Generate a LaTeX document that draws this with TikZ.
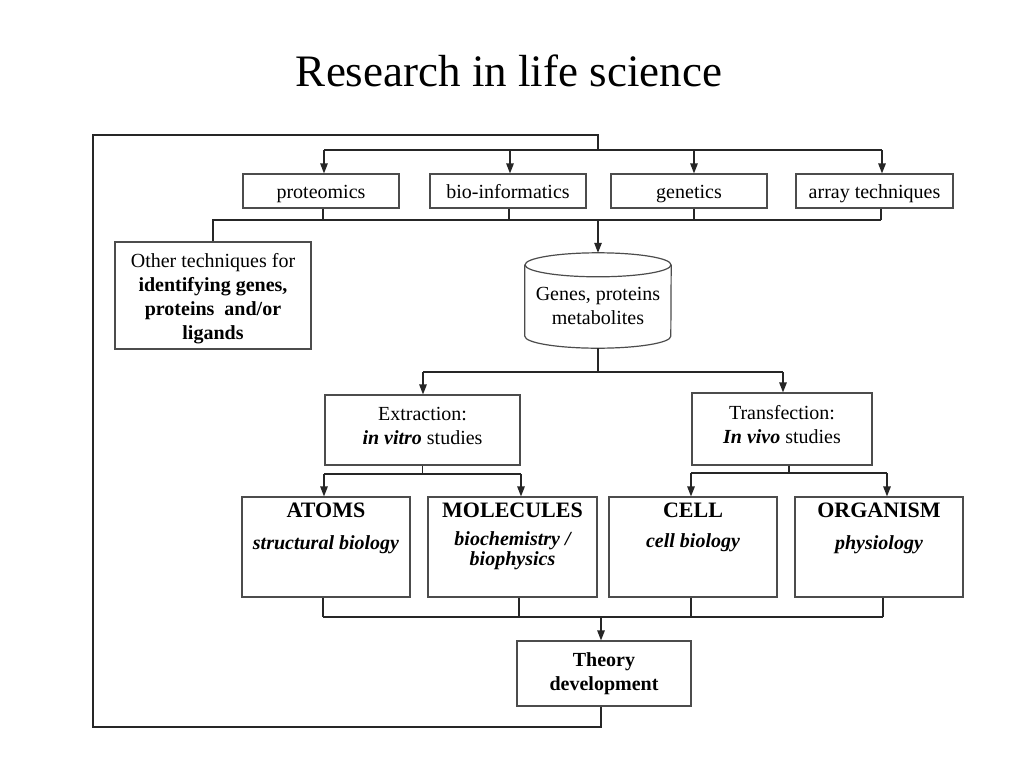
\documentclass[tikz,border=0pt]{standalone}
\usepackage{fontspec}
\setmainfont{Liberation Serif}
\usetikzlibrary{arrows.meta,calc}
\begin{document}
\begin{tikzpicture}[x=1pt,y=-1pt,
  box/.style={draw=black!70, line width=1.2pt, inner sep=0pt},
  conn/.style={line width=1.2pt, draw=black!85},
  arrowline/.style={conn, -{Triangle[length=10pt,width=7.5pt]}},
  txt/.style={font=\fontsize{20}{24}\selectfont, align=center, inner sep=0pt},
  bigtitle/.style={font=\fontsize{22}{26}\selectfont\bfseries, inner sep=0pt, anchor=base},
  subtitle/.style={font=\fontsize{20}{16.5}\selectfont\bfseries\itshape, align=center, inner sep=0pt, anchor=base},
  topbox/.style={box, txt, minimum height=34pt, text height=16pt, text depth=2pt},
  bottombox/.style={box, minimum width=168pt, minimum height=100pt}]
\useasboundingbox (0,0) rectangle (1024,768);
\fill[white] (0,0) rectangle (1024,768);

\node[font=\fontsize{45}{54}\selectfont, inner sep=0pt] (title) at (509,71) {Research in life science};

% top row
\node[topbox, minimum width=156pt] (prot) at (321,191) {proteomics};
\node[topbox, minimum width=156pt] (bioi) at (508,191) {bio-informatics};
\node[topbox, minimum width=156pt] (gene) at (689,191) {genetics};
\node[topbox, minimum width=157pt] (arrt) at (874.5,191) {array techniques};

% other techniques
\node[box, minimum width=196pt, minimum height=107pt] (other) at (213,295.5) {};
\node[txt] (otherT) at (213,299)
  {Other techniques for\\\textbf{identifying genes,}\\\textbf{proteins\ \ and/or}\\\textbf{ligands}};

% database cylinder
\node[minimum width=146pt, minimum height=95pt, inner sep=0pt] (db) at (598,300.5) {};
\node[txt] (dbtext) at (598,306) {Genes, proteins\\metabolites};
\draw[box] ($(db.north west)+(0,12)$) -- ($(db.south west)+(0,-12)$)
  arc[start angle=180, end angle=0, x radius=73, y radius=12] -- ($(db.north east)+(0,12)$);
\draw[box] ($(db.north)+(0,12)$) ellipse[x radius=73, y radius=12];

% extraction / transfection
\node[box, minimum width=195pt, minimum height=70pt] (ext) at (422.5,430) {};
\node[txt] (extT) at (422.5,426) {Extraction:\\\textbf{\textit{in vitro}} studies};
\node[box, minimum width=180pt, minimum height=72pt] (trf) at (782,429) {};
\node[txt] (trfT) at (782,425) {Transfection:\\\textbf{\textit{In vivo}} studies};

% bottom boxes
\node[bottombox] (atoms) at (326,547) {};
\node[bottombox, minimum width=169pt] (mol) at (512.5,547) {};
\node[bottombox] (cell) at (693,547) {};
\node[bottombox] (org) at (879,547) {};
\node[bigtitle] (atomsT) at (326,517) {ATOMS};
\node[bigtitle] (molT) at (512.5,517) {MOLECULES};
\node[bigtitle] (cellT) at (693,517) {CELL};
\node[bigtitle] (orgT) at (879,517) {ORGANISM};
\node[subtitle] (atomsS) at (326,549) {structural biology};
\node[subtitle] (molS) at (512.5,565) {biochemistry /\\biophysics};
\node[subtitle] (cellS) at (693,547) {cell biology};
\node[subtitle] (orgS) at (879,549) {physiology};

% theory
\node[box, txt, font=\fontsize{20}{24.5}\selectfont\bfseries, minimum width=174pt, minimum height=65pt] (theory) at (604,673.5)
  {Theory\\development};

% coordinates
\coordinate (loopBL) at (93,727);
\coordinate (loopTop) at (598,135);
\coordinate (topmid) at (598,150);
\coordinate (ta1) at (324,150);
\coordinate (ta2) at (510,150);
\coordinate (ta3) at (694,150);
\coordinate (ta4) at (882,150);
\coordinate (tb1) at (323,220);
\coordinate (tb2) at (509,220);
\coordinate (tb3) at (694,220);
\coordinate (tb4) at (881,220);
\coordinate (tbdb) at (598,220);
\coordinate (m1) at (423,372);
\coordinate (m2) at (783,372);
\coordinate (e1) at (324,474);
\coordinate (e2) at (521,474);
\coordinate (f1) at (691,473);
\coordinate (f2) at (887,473);
\coordinate (fmid) at (789,473);
\coordinate (g1) at (323,617);
\coordinate (g2) at (519,617);
\coordinate (g3) at (691,617);
\coordinate (g4) at (883,617);
\coordinate (gth) at (601,617);

% feedback loop
\draw[conn] (gth |- theory.south) |- (loopBL) |- (loopTop) -- (topmid);
% top bus
\draw[conn] (ta1) -- (ta4);
\draw[arrowline] (ta1) -- (ta1 |- prot.north);
\draw[arrowline] (ta2) -- (ta2 |- bioi.north);
\draw[arrowline] (ta3) -- (ta3 |- gene.north);
\draw[arrowline] (ta4) -- (ta4 |- arrt.north);
% lower bus
\draw[conn] (tb1 |- prot.south) -- (tb1);
\draw[conn] (tb2 |- bioi.south) -- (tb2);
\draw[conn] (tb3 |- gene.south) -- (tb3);
\draw[conn] (tb4 |- arrt.south) -- (tb4);
\draw[conn] (other.north) |- (tb4);
\draw[arrowline] (tbdb) -- (db.north);
% db to ext / trf
\draw[conn] (db.south) -- (db.south |- m1);
\draw[conn] (m1) -- (m2);
\draw[arrowline] (m1) -- (m1 |- ext.north);
\draw[arrowline] (m2) -- (m2 |- trf.north);
% ext to atoms / molecules
\draw[conn] (ext.south) -- (ext.south |- e1);
\draw[conn] (e1) -- (e2);
\draw[arrowline] (e1) -- (e1 |- atoms.north);
\draw[arrowline] (e2) -- (e2 |- mol.north);
% trf to cell / organism
\draw[conn] (fmid |- trf.south) -- (fmid);
\draw[conn] (f1) -- (f2);
\draw[arrowline] (f1) -- (f1 |- cell.north);
\draw[arrowline] (f2) -- (f2 |- org.north);
% bottom bus
\draw[conn] (g1 |- atoms.south) -- (g1);
\draw[conn] (g2 |- mol.south) -- (g2);
\draw[conn] (g3 |- cell.south) -- (g3);
\draw[conn] (g4 |- org.south) -- (g4);
\draw[conn] (g1) -- (g4);
\draw[arrowline] (gth) -- (gth |- theory.north);
\end{tikzpicture}
\end{document}
